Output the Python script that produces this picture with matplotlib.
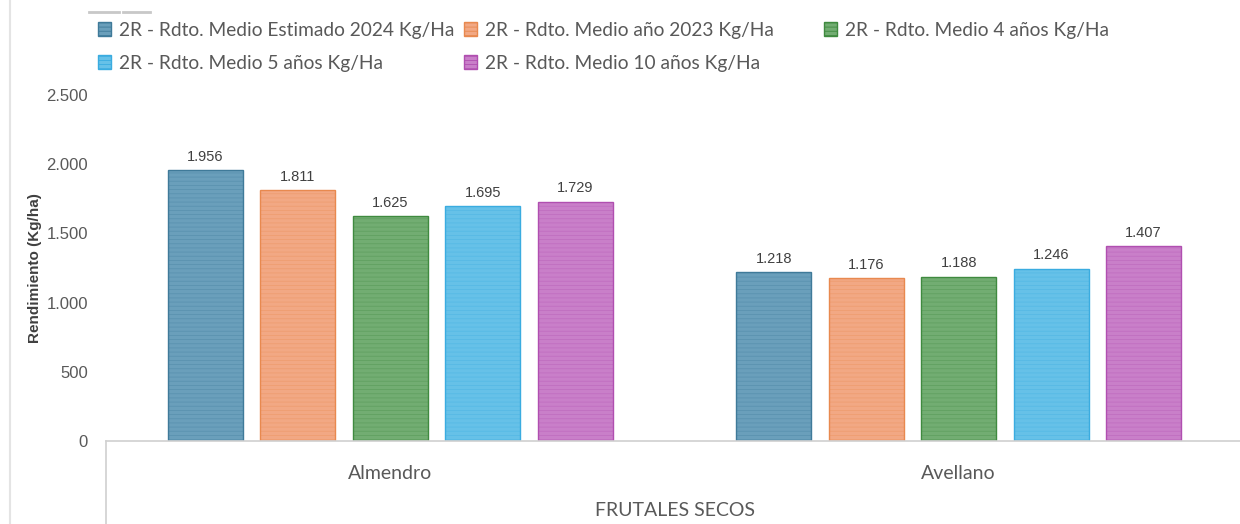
import numpy as np
import matplotlib
matplotlib.use('Agg')
import matplotlib.pyplot as plt
from matplotlib.lines import Line2D
from matplotlib.patches import Patch
from matplotlib.ticker import FuncFormatter

plt.rcParams['font.family'] = ['Lato', 'DejaVu Sans']
plt.rcParams['hatch.linewidth'] = 0.6
ARIAL = ['Liberation Sans', 'DejaVu Sans']

# datos
categorias = ['Almendro', 'Avellano']
series = ['2R - Rdto. Medio Estimado 2024 Kg/Ha',
          '2R - Rdto. Medio año 2023 Kg/Ha',
          '2R - Rdto. Medio 4 años Kg/Ha',
          '2R - Rdto. Medio 5 años Kg/Ha',
          '2R - Rdto. Medio 10 años Kg/Ha']
est_2024 = [1956, 1218]
anio_2023 = [1811, 1176]
medio_4 = [1625, 1188]
medio_5 = [1695, 1246]
medio_10 = [1729, 1407]
valores = [est_2024, anio_2023, medio_4, medio_5, medio_10]

fill = ['#6a9fbb', '#f2a884', '#72ad72', '#66c1e8', '#c97fc9']
edge = ['#3f7a99', '#e8894f', '#3f8a3f', '#3aace0', '#b04fb0']
TXT = '#595959'

fig = plt.figure(figsize=(12.4, 5.24), dpi=100)
ax = fig.add_axes([106/1240, 1-441/524, 1-106/1240, (441-95)/524])

x = np.arange(len(categorias))
w = 0.132; step = 0.1626
for i, (vals, fc, ec) in enumerate(zip(valores, fill, edge)):
    pos = x + (i - 2) * step
    ax.bar(pos, vals, width=w, color=fc, edgecolor=ec, linewidth=1.0, zorder=2)
    # textura de franjas horizontales
    ax.bar(pos, vals, width=w, facecolor='none', edgecolor=ec, hatch='----',
           linewidth=0, alpha=0.35, zorder=3)
    for p, v in zip(pos, vals):
        ax.text(p, v + 45, f'{v:,}'.replace(',', '.'), ha='center', va='bottom',
                fontsize=10.5, color='#404040', family=ARIAL)

ax.set_xlim(-0.5, 1.495)
ax.set_ylim(0, 2500)
ax.set_yticks(np.arange(0, 2501, 500))
ax.yaxis.set_major_formatter(FuncFormatter(lambda v, _: f'{int(v):,}'.replace(',', '.')))
ax.tick_params(axis='y', length=0, pad=13, labelsize=12, labelcolor=TXT)
for lb in ax.get_yticklabels():
    lb.set_family(ARIAL)
ax.set_xticks(x)
ax.set_xticklabels(categorias)
ax.tick_params(axis='x', length=0, pad=17, labelsize=14, labelcolor=TXT)
for s in ['top', 'right', 'left']:
    ax.spines[s].set_visible(False)
ax.spines['bottom'].set_color('#d0d0d0')
ax.spines['bottom'].set_linewidth(1.2)
ax.set_ylabel('Rendimiento (Kg/ha)', fontsize=11, fontweight='bold', color='#404040', family=ARIAL)
ax.yaxis.set_label_coords((42-106)/1134, 0.5)

fig.text(675/1240, 1-510/524, 'FRUTALES SECOS', ha='center', va='center', fontsize=14, color=TXT)

# lineas del grupo de categorias y bordes
fig.add_artist(Line2D([106/1240, 106/1240], [0, 1-441/524], color='#d0d0d0', lw=1.2))
fig.add_artist(Line2D([10/1240, 10/1240], [0, 1], color='#e4e4e4', lw=1.5))
fig.add_artist(Line2D([89/1240, 119/1240], [1-12/524]*2, color='#c8c8c8', lw=2))
fig.add_artist(Line2D([123/1240, 150/1240], [1-12/524]*2, color='#c8c8c8', lw=2))

# leyenda en columnas de ancho fijo
handles = [Patch(facecolor=fc, edgecolor=ec, hatch='----') for fc, ec in zip(fill, edge)]
cols = [[0, 3], [1, 4], [2]]
col_x = [88, 454, 814]
for cx, idx in zip(col_x, cols):
    fig.legend([handles[k] for k in idx], [series[k] for k in idx],
               loc='upper left', bbox_to_anchor=(cx/1240, 1-12/524), frameon=False,
               fontsize=13.8, labelcolor=TXT, handlelength=0.7, handleheight=0.7,
               handletextpad=0.4, labelspacing=0.85, borderpad=0)

fig.savefig('out.png', dpi=100)
